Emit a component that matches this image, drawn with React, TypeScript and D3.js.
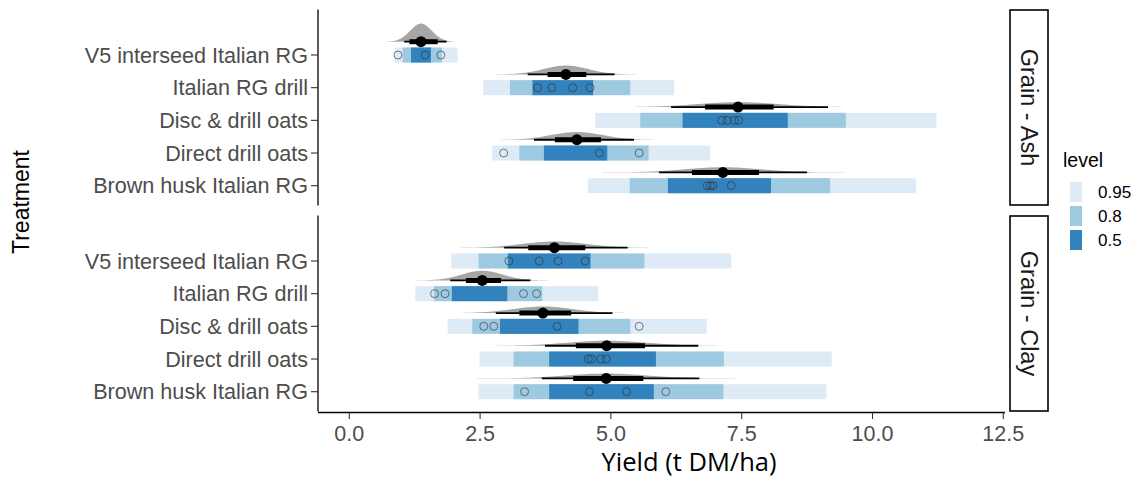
import React from "react";
import * as d3 from "d3";

const categories = [
  "V5 interseed Italian RG",
  "Italian RG drill",
  "Disc & drill oats",
  "Direct drill oats",
  "Brown husk Italian RG",
];
const panels = ["Grain - Ash", "Grain - Clay"];
const xTicks = [0, 2.5, 5, 7.5, 10, 12.5];
const levels = ["0.95", "0.8", "0.5"];

// Grain - Ash
const ashLo95 = [0.87, 2.56, 4.7, 2.73, 4.56];
const ashHi95 = [2.07, 6.21, 11.22, 6.9, 10.83];
const ashLo80 = [1.02, 3.07, 5.56, 3.25, 5.36];
const ashHi80 = [1.77, 5.37, 9.49, 5.72, 9.19];
const ashLo50 = [1.18, 3.5, 6.37, 3.72, 6.09];
const ashHi50 = [1.56, 4.66, 8.38, 4.93, 8.06];
const ashObs = [
  [0.93, 1.45, 1.75],
  [3.6, 3.87, 4.27, 4.6],
  [7.12, 7.22, 7.36, 7.44],
  [2.95, 4.78, 5.54],
  [6.84, 6.9, 6.95, 7.3],
];
const ashMean = [1.37, 4.14, 7.43, 4.35, 7.14];
const ashThickLo = [1.15, 3.79, 6.8, 3.93, 6.55];
const ashThickHi = [1.69, 4.53, 8.11, 4.81, 7.83];
const ashThinLo = [1.05, 3.41, 6.15, 3.53, 5.92];
const ashThinHi = [1.86, 5.07, 9.15, 5.44, 8.75];

// Grain - Clay
const clayLo95 = [1.95, 1.26, 1.88, 2.49, 2.47];
const clayHi95 = [7.3, 4.76, 6.83, 9.22, 9.12];
const clayLo80 = [2.47, 1.62, 2.35, 3.14, 3.14];
const clayHi80 = [5.64, 3.69, 5.37, 7.16, 7.15];
const clayLo50 = [3.03, 1.96, 2.88, 3.82, 3.82];
const clayHi50 = [4.61, 3.02, 4.38, 5.86, 5.82];
const clayObs = [
  [3.05, 3.63, 3.99, 4.51],
  [1.63, 1.83, 3.33, 3.58],
  [2.57, 2.76, 3.97, 5.54],
  [4.57, 4.63, 4.81, 4.91],
  [3.35, 4.59, 5.3, 6.05],
];
const clayMean = [3.92, 2.54, 3.7, 4.92, 4.91];
const clayThickLo = [3.42, 2.23, 3.25, 4.33, 4.28];
const clayThickHi = [4.51, 2.9, 4.24, 5.65, 5.62];
const clayThinLo = [2.96, 1.93, 2.8, 3.74, 3.68];
const clayThinHi = [5.32, 3.46, 5.03, 6.67, 6.69];

const panelData = [
  {
    lo: [ashLo95, ashLo80, ashLo50],
    hi: [ashHi95, ashHi80, ashHi50],
    obs: ashObs,
    mean: ashMean,
    thickLo: ashThickLo,
    thickHi: ashThickHi,
    thinLo: ashThinLo,
    thinHi: ashThinHi,
  },
  {
    lo: [clayLo95, clayLo80, clayLo50],
    hi: [clayHi95, clayHi80, clayHi50],
    obs: clayObs,
    mean: clayMean,
    thickLo: clayThickLo,
    thickHi: clayThickHi,
    thinLo: clayThinLo,
    thinHi: clayThinHi,
  },
];

const levelColors = ["#deebf7", "#9ecae1", "#3182bd"];

const W = 1140;
const H = 477;
const panelLeft = 318;
const panelRight = 1005;
const panelTops = [9.5, 215.5];
const panelH = 196;
const stripLeft = 1010;
const stripRight = 1048;

const x = d3.scaleLinear().domain([0, 12.5]).range([349.3, 1003.3]);
const yInner = d3.scalePoint<string>().domain(categories).range([45.5, 176.2]);

const FONT = "'Liberation Sans', Arial, sans-serif";

function slabPath(mean: number, lo: number, hi: number, base: number) {
  const sd = (hi - lo) / 3.92;
  const k = 9.4;
  const n = 120;
  const pts: [number, number][] = d3.range(n + 1).map((i) => {
    const v = mean - 3.2 * sd + (6.4 * sd * i) / n;
    const z = (v - mean) / sd;
    const dens = Math.exp(-0.5 * z * z) / (sd * Math.sqrt(2 * Math.PI));
    return [v, dens];
  });
  const area = d3
    .area<[number, number]>()
    .x((d) => x(d[0]))
    .y0(base)
    .y1((d) => base - k * d[1]);
  return area(pts) || "";
}

export default function App() {
  return (
    <svg width={W} height={H} style={{ display: "block", position: "absolute", left: 0, top: 0 }}>
      <rect width={W} height={H} fill="#ffffff" />
      {panels.map((p, pi) => {
        const top = panelTops[pi];
        const pd = panelData[pi];
        const y = (c: string) => top + (yInner(c) as number);
        return (
          <g key={p}>
            {categories.map((c, ci) => {
              const yc = y(c);
              return (
                <g key={c}>
                  {levels.map((lv, li) => (
                    <rect
                      key={lv}
                      x={x(pd.lo[li][ci])}
                      y={yc - 7.5}
                      width={x(pd.hi[li][ci]) - x(pd.lo[li][ci])}
                      height={15}
                      fill={levelColors[li]}
                    />
                  ))}
                  {pd.obs[ci].map((v, oi) => (
                    <circle
                      key={oi}
                      cx={x(v)}
                      cy={yc}
                      r={4}
                      fill="none"
                      stroke="#333333"
                      strokeOpacity={0.8}
                      strokeWidth={0.8}
                    />
                  ))}
                </g>
              );
            })}
            {categories.map((c, ci) => {
              const base = y(c) - 13.3;
              return (
                <g key={"he" + c}>
                  <path d={slabPath(pd.mean[ci], pd.thinLo[ci], pd.thinHi[ci], base)} fill="#a6a6a6" />
                  <line x1={x(pd.thinLo[ci])} x2={x(pd.thinHi[ci])} y1={base} y2={base} stroke="#000" strokeWidth={1.8} />
                  <line x1={x(pd.thickLo[ci])} x2={x(pd.thickHi[ci])} y1={base} y2={base} stroke="#000" strokeWidth={5} />
                  <circle cx={x(pd.mean[ci])} cy={base} r={5.5} fill="#000" />
                </g>
              );
            })}
            {/* y axis */}
            <line x1={panelLeft} x2={panelLeft} y1={top} y2={top + panelH} stroke="#000" strokeWidth={1.3} />
            {categories.map((c) => (
              <g key={"t" + c}>
                <line x1={panelLeft - 7} x2={panelLeft} y1={y(c)} y2={y(c)} stroke="#333" strokeWidth={1.1} />
                <text
                  x={panelLeft - 10}
                  y={y(c)}
                  dy="0.35em"
                  textAnchor="end"
                  fontFamily={FONT}
                  fontSize={21.6}
                  fill="#4d4d4d"
                >
                  {c}
                </text>
              </g>
            ))}
            {/* strip */}
            <rect
              x={stripLeft}
              y={top + 0.5}
              width={stripRight - stripLeft}
              height={panelH - 1}
              fill="#ffffff"
              stroke="#000"
              strokeWidth={1.6}
            />
            <text
              transform={`translate(${(stripLeft + stripRight) / 2},${top + panelH / 2}) rotate(90)`}
              textAnchor="middle"
              dy="0.35em"
              fontFamily={FONT}
              fontSize={23.5}
              fill="#1a1a1a"
            >
              {p}
            </text>
          </g>
        );
      })}
      {/* x axis */}
      <line x1={panelLeft} x2={panelRight} y1={412.5} y2={412.5} stroke="#000" strokeWidth={1.3} />
      {xTicks.map((t) => (
        <g key={t}>
          <line x1={x(t)} x2={x(t)} y1={412.5} y2={419} stroke="#333" strokeWidth={1.1} />
          <text x={x(t)} y={441} textAnchor="middle" fontFamily={FONT} fontSize={21.5} fill="#4d4d4d">
            {d3.format(".1f")(t)}
          </text>
        </g>
      ))}
      <text x={689} y={471} textAnchor="middle" fontFamily="'Open Sans', sans-serif" fontSize={25.5} fill="#000">
        Yield (t DM/ha)
      </text>
      <text
        transform="translate(29,202) rotate(-90)"
        textAnchor="middle"
        fontFamily={FONT}
        fontSize={23}
        fill="#000"
      >
        Treatment
      </text>
      {/* legend */}
      <text x={1063} y={167} fontFamily={FONT} fontSize={19.5} fill="#000">
        level
      </text>
      {levels.map((lv, li) => (
        <g key={"lg" + lv}>
          <rect x={1070} y={182 + li * 24} width={12} height={20} fill={levelColors[li]} />
          <text x={1098} y={192 + li * 24} dy="0.35em" fontFamily={FONT} fontSize={17} fill="#000">
            {lv}
          </text>
        </g>
      ))}
    </svg>
  );
}
